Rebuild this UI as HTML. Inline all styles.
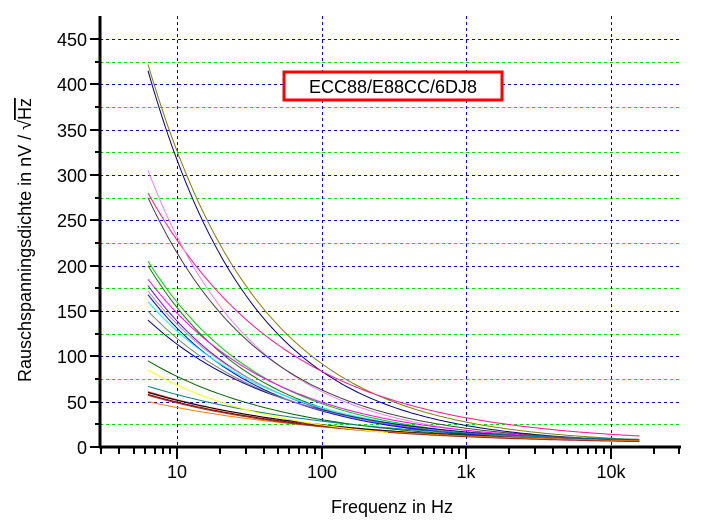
<!DOCTYPE html>
<html><head><meta charset="utf-8"><style>
html,body{margin:0;padding:0;background:#fff;width:710px;height:521px;overflow:hidden}
svg{display:block;font-family:"Liberation Sans",Arial,sans-serif}
</style></head><body>
<svg id="s" width="710" height="521" viewBox="0 0 710 521" xmlns="http://www.w3.org/2000/svg">
<g id="grid" shape-rendering="crispEdges"></g>
<g id="curves" fill="none" stroke-width="1"></g>
<g id="axes" shape-rendering="crispEdges"></g>
<rect x="284" y="72" width="218" height="28" fill="#fff" stroke="#f00" stroke-width="3"/>
<text x="393" y="93" font-size="18" text-anchor="middle">ECC88/E88CC/6DJ8</text>
<text x="392" y="513" font-size="18" text-anchor="middle">Frequenz in Hz</text>
<text transform="translate(31,240) rotate(-90)" font-size="18" text-anchor="middle">Rauschspanningsdichte in nV / √<tspan text-decoration="overline">Hz</tspan></text>
</svg>
<script>
var NS="http://www.w3.org/2000/svg";
function el(p,t,a){var e=document.createElementNS(NS,t);for(var k in a)e.setAttribute(k,a[k]);document.getElementById(p).appendChild(e);return e;}
var X0=100,X1=681,Y0=447;
function fx(f){return 177+(Math.log10(f)-1)*144.5;}
function fy(v){return 447-v*(408/450);}
for(var v=25;v<=450;v+=25){var y=Math.round(fy(v))+0.5;el("grid","line",{x1:X0,x2:X1,y1:y,y2:y,stroke:(v%50==0)?"#0000e0":"#00e000","stroke-width":1,"stroke-dasharray":"3,3"});}
[10,100,1000,10000].forEach(function(f){var x=Math.round(fx(f))+0.5;el("grid","line",{x1:x,x2:x,y1:16,y2:Y0,stroke:"#0000e0","stroke-width":1,"stroke-dasharray":"3,3"});});
var C=[
["#808000",422,0.56,3],["#000080",415,0.59,3],["#ff1493",280,0.45,4],["#ee82ee",305,0.6,4],
["#404040",275,0.55,4],["#00cc00",205,0.55,4],["#008000",200,0.58,4],["#ff00ff",185,0.5,4],
["#8000ff",178,0.55,4],["#a0a0a0",172,0.53,4],["#0000ff",168,0.55,4],["#00ffff",160,0.5,4],
["#000080",140,0.47,4],["#808080",150,0.5,4],["#006400",95,0.45,4],["#008080",67,0.34,4],
["#ff0000",61,0.36,3],["#000000",60,0.35,3],["#800000",58,0.36,3],["#ff8000",50,0.32,3],["#a52a2a",57,0.37,3]];
C.forEach(function(c){var pts=[];for(var lf=Math.log10(6.3);lf<=Math.log10(16000);lf+=0.02){var f=Math.pow(10,lf);var v=c[3]+(c[1]-c[3])*Math.pow(f/6.3,-c[2]);pts.push(fx(f).toFixed(1)+","+fy(v).toFixed(1));}
el("curves","polyline",{points:pts.join(" "),stroke:c[0]});});
(function(){var pts=[];for(var lf=Math.log10(6.3);lf<=Math.log10(300);lf+=0.02){var f=Math.pow(10,lf);var v=4+81*Math.pow(f/6.3,-0.5);pts.push(fx(f).toFixed(1)+","+fy(v).toFixed(1));}el("curves","polyline",{points:pts.join(" "),stroke:"#ffff00"});})();
el("axes","line",{x1:X0,x2:X0,y1:16,y2:Y0+1,stroke:"#000","stroke-width":3});
el("axes","line",{x1:X0-1,x2:X1,y1:Y0,y2:Y0,stroke:"#000","stroke-width":3});
for(var v=0;v<=450;v+=25){var y=Math.round(fy(v));var maj=v%50==0;el("axes","line",{x1:maj?90:95,x2:X0,y1:y,y2:y,stroke:"#000","stroke-width":2});
if(maj){var t=el("axes","text",{x:87,y:y+7,"font-size":18,"text-anchor":"end"});t.textContent=v;}}
for(var d=0;d<5;d++){for(var m=1;m<10;m++){var f=m*Math.pow(10,d);var x=Math.round(fx(f));if(x<X0||x>X1+1)continue;var maj=m==1;
el("axes","line",{x1:x,x2:x,y1:Y0,y2:maj?Y0+12:Y0+7,stroke:"#000","stroke-width":2});
if(maj&&f>=10){var t=el("axes","text",{x:x,y:478,"font-size":18,"text-anchor":"middle"});t.textContent=f==1000?"1k":f==10000?"10k":f;}}}
</script>
</body></html>
